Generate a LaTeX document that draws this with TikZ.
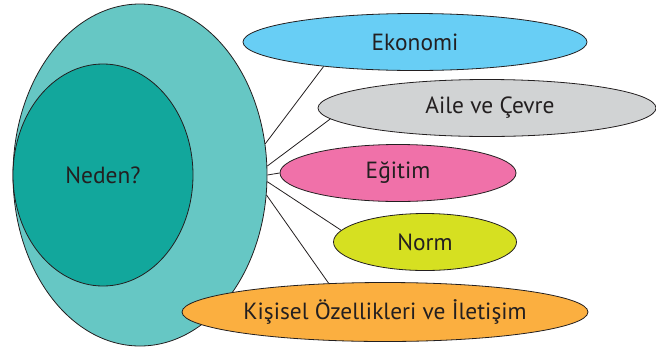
\documentclass[tikz,border=0pt]{standalone}
\usepackage{fontspec}
\setmainfont{PT Sans}
\usepackage{tikz}
\usetikzlibrary{shapes.geometric}

\definecolor{outerteal}{HTML}{66C7C4}
\definecolor{innerteal}{HTML}{12A79C}
\definecolor{ekoblue}{HTML}{68CEF5}
\definecolor{ailegray}{HTML}{D1D3D4}
\definecolor{egitpink}{HTML}{F071A9}
\definecolor{normlime}{HTML}{D6E021}
\definecolor{kisorange}{HTML}{FBAF40}
\definecolor{textdark}{HTML}{231F20}

\tikzset{
  bubble/.style={ellipse, draw=textdark, line width=0.8pt, inner sep=0pt,
    text=textdark, font=\fontsize{23.4}{28}\selectfont},
  link/.style={draw=textdark, line width=0.8pt}
}

\begin{document}
\begin{tikzpicture}[x=1pt,y=-1pt]
      \useasboundingbox (0,0) rectangle (656,349);
      % left side
      \node[bubble, fill=outerteal, minimum width=254pt, minimum height=342pt] (outer) at (140,175) {};
      \node[bubble, fill=innerteal, minimum width=180pt, minimum height=222pt] (neden) at (103,175) {Neden?};
      % reasons
      \node[bubble, fill=ekoblue, minimum width=344pt, minimum height=57pt] (eko) at (415,42) {Ekonomi};
      \node[bubble, fill=ailegray, minimum width=338pt, minimum height=57pt] (aile) at (487,108) {\hspace{6pt}Aile ve Çevre};
      \node[bubble, fill=egitpink, minimum width=236pt, minimum height=57pt] (egit) at (398,173) {Eğitim};
      \node[bubble, fill=normlime, minimum width=183pt, minimum height=57pt] (norm) at (425,242) {Norm};
      \node[bubble, fill=kisorange, minimum width=406pt, minimum height=59pt] (kis) at (385,312) {Kişisel Özellikleri ve İletişim};
      % links
      \draw[link] (outer.14) -- (eko.195);
      \draw[link] (outer.4.5) -- (aile.184);
      \draw[link] (outer.0) -- (egit.180);
      \draw[link] (outer.-3.6) -- (norm.172);
      \draw[link] (outer.-9.8) -- (kis.153);
    \end{tikzpicture}
\end{document}
